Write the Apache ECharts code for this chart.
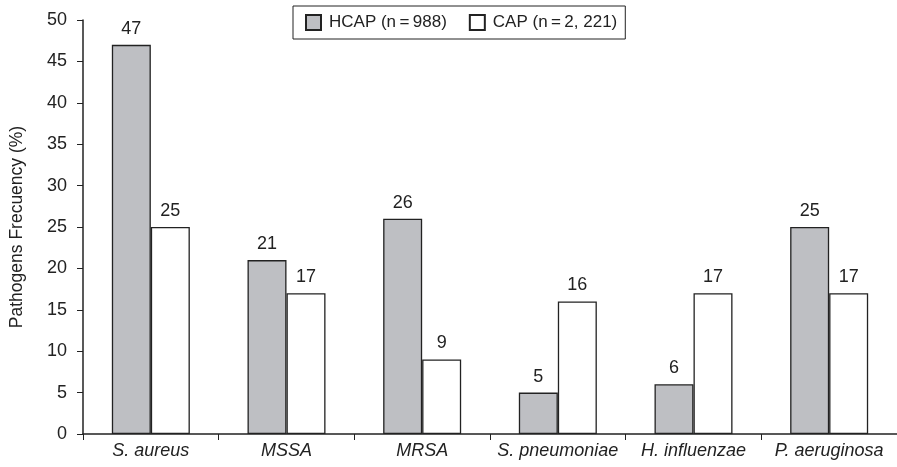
<!DOCTYPE html>
<html lang="en">
<head>
    <meta charset="UTF-8">
    <title>Pathogens Frecuency</title>
    <script src="https://cdn.jsdelivr.net/npm/echarts@6/dist/echarts.min.js"></script>
</head>
<body style="margin:0">
    <div id="chart" style="width:897px;height:467px;"></div>
    <script>
        var categories = ['S. aureus', 'MSSA', 'MRSA', 'S. pneumoniae', 'H. influenzae', 'P. aeruginosa'];
        var hcap = [47, 21, 26, 5, 6, 25];
        var cap = [25, 17, 9, 16, 17, 17];
        var seriesNames = ['HCAP (n\u2009=\u2009988)', 'CAP (n\u2009=\u20092, 221)'];

        var font = 'Liberation Sans, Arial, sans-serif';
        var chart = echarts.init(document.getElementById('chart'));
        var option = {
            animation: false,
            textStyle: { fontFamily: font },
            legend: {
                top: 6,
                left: 293,
                icon: 'rect',
                itemWidth: 15,
                itemHeight: 15,
                itemGap: 22,
                padding: [8, 8, 8, 12],
                borderColor: '#222',
                borderWidth: 1,
                textStyle: { fontSize: 17, color: '#222', padding: [0, 0, 0, 3] },
                data: seriesNames
            },
            grid: { left: 81, right: 0, top: 20, bottom: 33 },
            xAxis: {
                type: 'category',
                data: categories,
                axisLine: { lineStyle: { color: '#222', width: 1.5 } },
                axisTick: { show: true, interval: 0, length: 6, lineStyle: { color: '#222' } },
                axisLabel: { interval: 0, fontSize: 18, fontStyle: 'italic', color: '#222', margin: 8 }
            },
            yAxis: {
                type: 'value',
                min: 0,
                max: 50,
                interval: 5,
                name: 'Pathogens Frecuency (%)',
                nameLocation: 'middle',
                nameGap: 57,
                nameTextStyle: { fontSize: 17.5, color: '#222' },
                splitLine: { show: false },
                axisLine: { show: true, lineStyle: { color: '#222', width: 1.5 } },
                axisTick: { show: true, length: 6, lineStyle: { color: '#222' } },
                axisLabel: { fontSize: 18, color: '#222', margin: 16 }
            },
            series: [
                {
                    name: seriesNames[0],
                    type: 'bar',
                    data: hcap,
                    barWidth: 39,
                    barGap: '0%',
                    itemStyle: { color: '#bebfc3', borderColor: '#222', borderWidth: 1.3 },
                    label: { show: true, position: 'top', fontSize: 18, color: '#222', distance: 7 }
                },
                {
                    name: seriesNames[1],
                    type: 'bar',
                    data: cap,
                    barWidth: 39,
                    barGap: '0%',
                    itemStyle: { color: '#ffffff', borderColor: '#222', borderWidth: 1.3 },
                    label: { show: true, position: 'top', fontSize: 18, color: '#222', distance: 7 }
                }
            ]
        };
        chart.setOption(option);
    </script>
</body>
</html>
